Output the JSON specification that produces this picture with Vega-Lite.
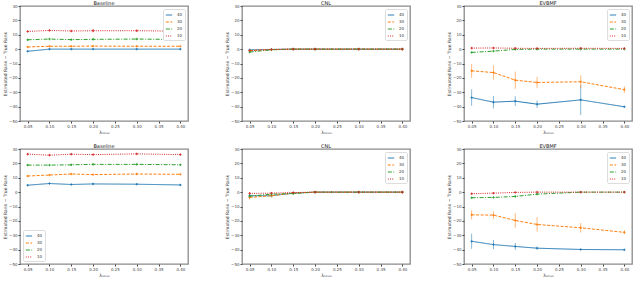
{
"$schema":"https://vega.github.io/schema/vega-lite/v6.json",
"autosize":{"type":"pad"},
"padding":{"left":1,"top":0,"right":2,"bottom":0},
"background":"white",
"spacing":8,
"config":{
 "view":{"stroke":"#8a8a8a","strokeWidth":1.3},
 "axis":{"grid":false,"labelFontSize":4,"titleFontSize":4.5,"tickSize":2,"labelPadding":1,"titlePadding":1.5,"domain":false,"tickColor":"#444","labelColor":"#444","titleColor":"#333","labelFont":"DejaVu Sans","titleFont":"DejaVu Sans","titleFontWeight":"normal","labelOverlap":false,"labelFlush":false},
 "title":{"fontSize":5,"fontWeight":"normal","offset":-2,"font":"DejaVu Sans","color":"#222"},
 "legend":{"orient":"top-right","labelFontSize":4,"labelFont":"DejaVu Sans","symbolType":"stroke","symbolSize":40,"symbolStrokeWidth":1,"symbolOpacity":1,"padding":2,"rowPadding":1,"strokeColor":"#ddd","fillColor":"white","offset":3,"labelLimit":30,"cornerRadius":1.5,"labelColor":"#333"},
 "concat":{"spacing":34}
},
"datasets":{"d":[
{"p":"tl","s":"40","x":0.05,"y":-1.5,"e":0.5},{"p":"tl","s":"40","x":0.10,"y":0,"e":0.2},{"p":"tl","s":"40","x":0.15,"y":0,"e":0.2},{"p":"tl","s":"40","x":0.20,"y":0,"e":0.2},{"p":"tl","s":"40","x":0.30,"y":0,"e":0.2},{"p":"tl","s":"40","x":0.40,"y":0,"e":0.2},
{"p":"tl","s":"30","x":0.05,"y":1.5,"e":0.3},{"p":"tl","s":"30","x":0.10,"y":2,"e":0.3},{"p":"tl","s":"30","x":0.15,"y":2,"e":0.3},{"p":"tl","s":"30","x":0.20,"y":2.1,"e":0.5},{"p":"tl","s":"30","x":0.30,"y":2,"e":0.3},{"p":"tl","s":"30","x":0.40,"y":2,"e":0.3},
{"p":"tl","s":"20","x":0.05,"y":6.5,"e":0.4},{"p":"tl","s":"20","x":0.10,"y":7,"e":0.5},{"p":"tl","s":"20","x":0.15,"y":6.6,"e":0.4},{"p":"tl","s":"20","x":0.20,"y":6.8,"e":0.7},{"p":"tl","s":"20","x":0.30,"y":7,"e":0.6},{"p":"tl","s":"20","x":0.40,"y":6.7,"e":0.4},
{"p":"tl","s":"10","x":0.05,"y":12.3,"e":0.5},{"p":"tl","s":"10","x":0.10,"y":13,"e":0.6},{"p":"tl","s":"10","x":0.15,"y":12.6,"e":0.5},{"p":"tl","s":"10","x":0.20,"y":12.8,"e":1.2},{"p":"tl","s":"10","x":0.30,"y":12.8,"e":0.7},{"p":"tl","s":"10","x":0.40,"y":12.5,"e":0.6},

{"p":"tm","s":"40","x":0.05,"y":-0.5,"e":0.5},{"p":"tm","s":"40","x":0.10,"y":-0.2,"e":0.2},{"p":"tm","s":"40","x":0.15,"y":0,"e":0.1},{"p":"tm","s":"40","x":0.20,"y":0,"e":0.1},{"p":"tm","s":"40","x":0.30,"y":0,"e":0.1},{"p":"tm","s":"40","x":0.40,"y":0,"e":0.1},
{"p":"tm","s":"30","x":0.05,"y":-1,"e":0.6},{"p":"tm","s":"30","x":0.10,"y":-0.3,"e":0.3},{"p":"tm","s":"30","x":0.15,"y":0,"e":0.1},{"p":"tm","s":"30","x":0.20,"y":0,"e":0.1},{"p":"tm","s":"30","x":0.30,"y":0,"e":0.1},{"p":"tm","s":"30","x":0.40,"y":0,"e":0.1},
{"p":"tm","s":"20","x":0.05,"y":-2,"e":0.8},{"p":"tm","s":"20","x":0.10,"y":-0.5,"e":0.3},{"p":"tm","s":"20","x":0.15,"y":0,"e":0.1},{"p":"tm","s":"20","x":0.20,"y":0,"e":0.1},{"p":"tm","s":"20","x":0.30,"y":0,"e":0.1},{"p":"tm","s":"20","x":0.40,"y":0,"e":0.1},
{"p":"tm","s":"10","x":0.05,"y":-1,"e":0.8},{"p":"tm","s":"10","x":0.10,"y":-0.3,"e":0.3},{"p":"tm","s":"10","x":0.15,"y":0,"e":0.1},{"p":"tm","s":"10","x":0.20,"y":0,"e":0.1},{"p":"tm","s":"10","x":0.30,"y":0,"e":0.1},{"p":"tm","s":"10","x":0.40,"y":0,"e":0.1},

{"p":"tr","s":"40","x":0.05,"y":-33.7,"e":5.7},{"p":"tr","s":"40","x":0.10,"y":-36.9,"e":4.4},{"p":"tr","s":"40","x":0.15,"y":-36.2,"e":3.4},{"p":"tr","s":"40","x":0.20,"y":-38.3,"e":2.6},{"p":"tr","s":"40","x":0.30,"y":-35.3,"e":10.5},{"p":"tr","s":"40","x":0.40,"y":-40.1,"e":0.3},
{"p":"tr","s":"30","x":0.05,"y":-15.1,"e":4.8},{"p":"tr","s":"30","x":0.10,"y":-16.3,"e":5},{"p":"tr","s":"30","x":0.15,"y":-21.6,"e":6},{"p":"tr","s":"30","x":0.20,"y":-23.2,"e":4},{"p":"tr","s":"30","x":0.30,"y":-22.7,"e":4.5},{"p":"tr","s":"30","x":0.40,"y":-28.2,"e":2.3},
{"p":"tr","s":"20","x":0.05,"y":-2.3,"e":0.4},{"p":"tr","s":"20","x":0.10,"y":-1.4,"e":0.4},{"p":"tr","s":"20","x":0.15,"y":-0.2,"e":0.3},{"p":"tr","s":"20","x":0.20,"y":0,"e":0.2},{"p":"tr","s":"20","x":0.30,"y":0,"e":0.2},{"p":"tr","s":"20","x":0.40,"y":0,"e":0.2},
{"p":"tr","s":"10","x":0.05,"y":0.7,"e":0.5},{"p":"tr","s":"10","x":0.10,"y":0.8,"e":0.5},{"p":"tr","s":"10","x":0.15,"y":0.6,"e":0.4},{"p":"tr","s":"10","x":0.20,"y":0.5,"e":0.4},{"p":"tr","s":"10","x":0.30,"y":0.6,"e":0.4},{"p":"tr","s":"10","x":0.40,"y":0.5,"e":0.4},

{"p":"bl","s":"40","x":0.05,"y":4.8,"e":0.5},{"p":"bl","s":"40","x":0.10,"y":6,"e":0.6},{"p":"bl","s":"40","x":0.15,"y":5.3,"e":0.5},{"p":"bl","s":"40","x":0.20,"y":5.7,"e":0.6},{"p":"bl","s":"40","x":0.30,"y":5.5,"e":0.5},{"p":"bl","s":"40","x":0.40,"y":5,"e":0.5},
{"p":"bl","s":"30","x":0.05,"y":11.2,"e":0.4},{"p":"bl","s":"30","x":0.10,"y":11.9,"e":0.4},{"p":"bl","s":"30","x":0.15,"y":12.6,"e":0.5},{"p":"bl","s":"30","x":0.20,"y":12.2,"e":0.4},{"p":"bl","s":"30","x":0.30,"y":12.6,"e":0.4},{"p":"bl","s":"30","x":0.40,"y":12.4,"e":0.4},
{"p":"bl","s":"20","x":0.05,"y":18.8,"e":0.5},{"p":"bl","s":"20","x":0.10,"y":18.8,"e":0.5},{"p":"bl","s":"20","x":0.15,"y":19,"e":0.6},{"p":"bl","s":"20","x":0.20,"y":19.3,"e":0.7},{"p":"bl","s":"20","x":0.30,"y":19.3,"e":0.7},{"p":"bl","s":"20","x":0.40,"y":19,"e":0.5},
{"p":"bl","s":"10","x":0.05,"y":26.4,"e":0.7},{"p":"bl","s":"10","x":0.10,"y":25.7,"e":0.6},{"p":"bl","s":"10","x":0.15,"y":26.4,"e":0.7},{"p":"bl","s":"10","x":0.20,"y":26.1,"e":0.6},{"p":"bl","s":"10","x":0.30,"y":26.6,"e":0.7},{"p":"bl","s":"10","x":0.40,"y":26.1,"e":0.6},

{"p":"bm","s":"40","x":0.05,"y":-2.5,"e":1},{"p":"bm","s":"40","x":0.10,"y":-2.5,"e":1.2},{"p":"bm","s":"40","x":0.15,"y":-0.7,"e":0.5},{"p":"bm","s":"40","x":0.20,"y":0,"e":0.1},{"p":"bm","s":"40","x":0.30,"y":0,"e":0.1},{"p":"bm","s":"40","x":0.40,"y":0,"e":0.1},
{"p":"bm","s":"30","x":0.05,"y":-3.7,"e":1.5},{"p":"bm","s":"30","x":0.10,"y":-2.5,"e":1},{"p":"bm","s":"30","x":0.15,"y":-0.7,"e":0.5},{"p":"bm","s":"30","x":0.20,"y":0,"e":0.1},{"p":"bm","s":"30","x":0.30,"y":0,"e":0.1},{"p":"bm","s":"30","x":0.40,"y":0,"e":0.1},
{"p":"bm","s":"20","x":0.05,"y":-2.8,"e":1},{"p":"bm","s":"20","x":0.10,"y":-1.4,"e":1},{"p":"bm","s":"20","x":0.15,"y":-1,"e":0.6},{"p":"bm","s":"20","x":0.20,"y":0,"e":0.1},{"p":"bm","s":"20","x":0.30,"y":0,"e":0.1},{"p":"bm","s":"20","x":0.40,"y":0,"e":0.1},
{"p":"bm","s":"10","x":0.05,"y":-0.9,"e":0.8},{"p":"bm","s":"10","x":0.10,"y":-0.7,"e":0.6},{"p":"bm","s":"10","x":0.15,"y":-0.3,"e":0.4},{"p":"bm","s":"10","x":0.20,"y":0,"e":0.1},{"p":"bm","s":"10","x":0.30,"y":0,"e":0.1},{"p":"bm","s":"10","x":0.40,"y":0,"e":0.1},

{"p":"br","s":"40","x":0.05,"y":-34.2,"e":5.3},{"p":"br","s":"40","x":0.10,"y":-36.5,"e":3.2},{"p":"br","s":"40","x":0.15,"y":-37.8,"e":2.4},{"p":"br","s":"40","x":0.20,"y":-39,"e":1},{"p":"br","s":"40","x":0.30,"y":-39.9,"e":0.5},{"p":"br","s":"40","x":0.40,"y":-40.1,"e":0.3},
{"p":"br","s":"30","x":0.05,"y":-15.8,"e":3.2},{"p":"br","s":"30","x":0.10,"y":-16,"e":2.7},{"p":"br","s":"30","x":0.15,"y":-19.7,"e":5},{"p":"br","s":"30","x":0.20,"y":-22.5,"e":5},{"p":"br","s":"30","x":0.30,"y":-24.8,"e":3.3},{"p":"br","s":"30","x":0.40,"y":-28,"e":1.5},
{"p":"br","s":"20","x":0.05,"y":-3.9,"e":0.5},{"p":"br","s":"20","x":0.10,"y":-3.7,"e":0.5},{"p":"br","s":"20","x":0.15,"y":-3,"e":0.6},{"p":"br","s":"20","x":0.20,"y":-1.4,"e":0.5},{"p":"br","s":"20","x":0.30,"y":0,"e":0.2},{"p":"br","s":"20","x":0.40,"y":0,"e":0.2},
{"p":"br","s":"10","x":0.05,"y":-1.1,"e":0.4},{"p":"br","s":"10","x":0.10,"y":-0.7,"e":0.4},{"p":"br","s":"10","x":0.15,"y":-0.2,"e":0.3},{"p":"br","s":"10","x":0.20,"y":0,"e":0.2},{"p":"br","s":"10","x":0.30,"y":0,"e":0.2},{"p":"br","s":"10","x":0.40,"y":0,"e":0.2}
]},
"data":{"name":"d"},
"resolve":{"scale":{"color":"independent","strokeDash":"independent"},"legend":{"color":"independent","strokeDash":"independent"}},
"vconcat":[
{"hconcat":[
 {"title":"Baseline","width":168,"height":115,"transform":[{"filter":"datum.p==='tl'"}],
  "encoding":{"x":{"field":"x","type":"quantitative","title":"λₙₒᵢₛₑ","scale":{"domain":[0.0325,0.4175],"nice":false,"zero":false},"axis":{"values":[0.05,0.1,0.15,0.2,0.25,0.3,0.35,0.4],"format":".2f","labelOverlap":false}},"y":{"field":"y","type":"quantitative","title":"Estimated Rank − True Rank","scale":{"domain":[-50,30],"nice":false},"axis":{"values":[-50,-40,-30,-20,-10,0,10,20,30],"labelOverlap":false}},"color":{"field":"s","type":"nominal","title":null,"legend":{"encode":{"symbols":{"update":{"fill":{"value":"transparent"},"opacity":{"value":1},"stroke":{"signal":"datum.value==='40'?'#1f77b4':datum.value==='30'?'#ff7f0e':datum.value==='20'?'#2ca02c':'#d62728'"},"strokeDash":{"signal":"datum.value==='30'?[3,1.5]:datum.value==='20'?[4,1.5,1,1.5]:datum.value==='10'?[1,1.2]:[1,0]"}}}}},"scale":{"domain":["40","30","20","10"],"range":["#1f77b4","#ff7f0e","#2ca02c","#d62728"]}}},
  "layer":[
   {"mark":{"type":"errorbar","thickness":0.9,"opacity":0.6},"encoding":{"yError":{"field":"e"}}},
   {"mark":{"type":"line","strokeWidth":1},"encoding":{"strokeDash":{"field":"s","type":"nominal","legend":null,"scale":{"domain":["40","30","20","10"],"range":[[1,0],[3,1.5],[4,1.5,1,1.5],[1,1.2]]}}}},
   {"mark":{"type":"point","shape":"M-1,0H1M0,-1V1","size":6,"filled":false,"strokeWidth":0.8,"opacity":1},"encoding":{}}
  ]},
 {"title":"CNL","width":168,"height":115,"transform":[{"filter":"datum.p==='tm'"}],
  "encoding":{"x":{"field":"x","type":"quantitative","title":"λₙₒᵢₛₑ","scale":{"domain":[0.0325,0.4175],"nice":false,"zero":false},"axis":{"values":[0.05,0.1,0.15,0.2,0.25,0.3,0.35,0.4],"format":".2f","labelOverlap":false}},"y":{"field":"y","type":"quantitative","title":"Estimated Rank − True Rank","scale":{"domain":[-50,30],"nice":false},"axis":{"values":[-50,-40,-30,-20,-10,0,10,20,30],"labelOverlap":false}},"color":{"field":"s","type":"nominal","title":null,"legend":{"encode":{"symbols":{"update":{"fill":{"value":"transparent"},"opacity":{"value":1},"stroke":{"signal":"datum.value==='40'?'#1f77b4':datum.value==='30'?'#ff7f0e':datum.value==='20'?'#2ca02c':'#d62728'"},"strokeDash":{"signal":"datum.value==='30'?[3,1.5]:datum.value==='20'?[4,1.5,1,1.5]:datum.value==='10'?[1,1.2]:[1,0]"}}}}},"scale":{"domain":["40","30","20","10"],"range":["#1f77b4","#ff7f0e","#2ca02c","#d62728"]}}},
  "layer":[
   {"mark":{"type":"errorbar","thickness":0.9,"opacity":0.6},"encoding":{"yError":{"field":"e"}}},
   {"mark":{"type":"line","strokeWidth":1},"encoding":{"strokeDash":{"field":"s","type":"nominal","legend":null,"scale":{"domain":["40","30","20","10"],"range":[[1,0],[3,1.5],[4,1.5,1,1.5],[1,1.2]]}}}},
   {"mark":{"type":"point","shape":"M-1,0H1M0,-1V1","size":6,"filled":false,"strokeWidth":0.8,"opacity":1},"encoding":{}}
  ]},
 {"title":"EVBMF","width":168,"height":115,"transform":[{"filter":"datum.p==='tr'"}],
  "encoding":{"x":{"field":"x","type":"quantitative","title":"λₙₒᵢₛₑ","scale":{"domain":[0.0325,0.4175],"nice":false,"zero":false},"axis":{"values":[0.05,0.1,0.15,0.2,0.25,0.3,0.35,0.4],"format":".2f","labelOverlap":false}},"y":{"field":"y","type":"quantitative","title":"Estimated Rank − True Rank","scale":{"domain":[-50,30],"nice":false},"axis":{"values":[-50,-40,-30,-20,-10,0,10,20,30],"labelOverlap":false}},"color":{"field":"s","type":"nominal","title":null,"legend":{"encode":{"symbols":{"update":{"fill":{"value":"transparent"},"opacity":{"value":1},"stroke":{"signal":"datum.value==='40'?'#1f77b4':datum.value==='30'?'#ff7f0e':datum.value==='20'?'#2ca02c':'#d62728'"},"strokeDash":{"signal":"datum.value==='30'?[3,1.5]:datum.value==='20'?[4,1.5,1,1.5]:datum.value==='10'?[1,1.2]:[1,0]"}}}}},"scale":{"domain":["40","30","20","10"],"range":["#1f77b4","#ff7f0e","#2ca02c","#d62728"]}}},
  "layer":[
   {"mark":{"type":"errorbar","thickness":0.9,"opacity":0.6},"encoding":{"yError":{"field":"e"}}},
   {"mark":{"type":"line","strokeWidth":1},"encoding":{"strokeDash":{"field":"s","type":"nominal","legend":null,"scale":{"domain":["40","30","20","10"],"range":[[1,0],[3,1.5],[4,1.5,1,1.5],[1,1.2]]}}}},
   {"mark":{"type":"point","shape":"M-1,0H1M0,-1V1","size":6,"filled":false,"strokeWidth":0.8,"opacity":1},"encoding":{}}
  ]}
 ],
 "resolve":{"scale":{"color":"independent","strokeDash":"independent"},"legend":{"color":"independent","strokeDash":"independent"}}
},
{"hconcat":[
 {"title":"Baseline","width":168,"height":115,"transform":[{"filter":"datum.p==='bl'"}],
  "encoding":{"x":{"field":"x","type":"quantitative","title":"λₙₒᵢₛₑ","scale":{"domain":[0.0325,0.4175],"nice":false,"zero":false},"axis":{"values":[0.05,0.1,0.15,0.2,0.25,0.3,0.35,0.4],"format":".2f","labelOverlap":false}},"y":{"field":"y","type":"quantitative","title":"Estimated Rank − True Rank","scale":{"domain":[-50,30],"nice":false},"axis":{"values":[-50,-40,-30,-20,-10,0,10,20,30],"labelOverlap":false}},"color":{"field":"s","type":"nominal","title":null,"legend":{"orient":"bottom-left","encode":{"symbols":{"update":{"fill":{"value":"transparent"},"opacity":{"value":1},"stroke":{"signal":"datum.value==='40'?'#1f77b4':datum.value==='30'?'#ff7f0e':datum.value==='20'?'#2ca02c':'#d62728'"},"strokeDash":{"signal":"datum.value==='30'?[3,1.5]:datum.value==='20'?[4,1.5,1,1.5]:datum.value==='10'?[1,1.2]:[1,0]"}}}}},"scale":{"domain":["40","30","20","10"],"range":["#1f77b4","#ff7f0e","#2ca02c","#d62728"]}}},
  "layer":[
   {"mark":{"type":"errorbar","thickness":0.9,"opacity":0.6},"encoding":{"yError":{"field":"e"}}},
   {"mark":{"type":"line","strokeWidth":1},"encoding":{"strokeDash":{"field":"s","type":"nominal","legend":null,"scale":{"domain":["40","30","20","10"],"range":[[1,0],[3,1.5],[4,1.5,1,1.5],[1,1.2]]}}}},
   {"mark":{"type":"point","shape":"M-1,0H1M0,-1V1","size":6,"filled":false,"strokeWidth":0.8,"opacity":1},"encoding":{}}
  ]},
 {"title":"CNL","width":168,"height":115,"transform":[{"filter":"datum.p==='bm'"}],
  "encoding":{"x":{"field":"x","type":"quantitative","title":"λₙₒᵢₛₑ","scale":{"domain":[0.0325,0.4175],"nice":false,"zero":false},"axis":{"values":[0.05,0.1,0.15,0.2,0.25,0.3,0.35,0.4],"format":".2f","labelOverlap":false}},"y":{"field":"y","type":"quantitative","title":"Estimated Rank − True Rank","scale":{"domain":[-50,30],"nice":false},"axis":{"values":[-50,-40,-30,-20,-10,0,10,20,30],"labelOverlap":false}},"color":{"field":"s","type":"nominal","title":null,"legend":{"encode":{"symbols":{"update":{"fill":{"value":"transparent"},"opacity":{"value":1},"stroke":{"signal":"datum.value==='40'?'#1f77b4':datum.value==='30'?'#ff7f0e':datum.value==='20'?'#2ca02c':'#d62728'"},"strokeDash":{"signal":"datum.value==='30'?[3,1.5]:datum.value==='20'?[4,1.5,1,1.5]:datum.value==='10'?[1,1.2]:[1,0]"}}}}},"scale":{"domain":["40","30","20","10"],"range":["#1f77b4","#ff7f0e","#2ca02c","#d62728"]}}},
  "layer":[
   {"mark":{"type":"errorbar","thickness":0.9,"opacity":0.6},"encoding":{"yError":{"field":"e"}}},
   {"mark":{"type":"line","strokeWidth":1},"encoding":{"strokeDash":{"field":"s","type":"nominal","legend":null,"scale":{"domain":["40","30","20","10"],"range":[[1,0],[3,1.5],[4,1.5,1,1.5],[1,1.2]]}}}},
   {"mark":{"type":"point","shape":"M-1,0H1M0,-1V1","size":6,"filled":false,"strokeWidth":0.8,"opacity":1},"encoding":{}}
  ]},
 {"title":"EVBMF","width":168,"height":115,"transform":[{"filter":"datum.p==='br'"}],
  "encoding":{"x":{"field":"x","type":"quantitative","title":"λₙₒᵢₛₑ","scale":{"domain":[0.0325,0.4175],"nice":false,"zero":false},"axis":{"values":[0.05,0.1,0.15,0.2,0.25,0.3,0.35,0.4],"format":".2f","labelOverlap":false}},"y":{"field":"y","type":"quantitative","title":"Estimated Rank − True Rank","scale":{"domain":[-50,30],"nice":false},"axis":{"values":[-50,-40,-30,-20,-10,0,10,20,30],"labelOverlap":false}},"color":{"field":"s","type":"nominal","title":null,"legend":{"encode":{"symbols":{"update":{"fill":{"value":"transparent"},"opacity":{"value":1},"stroke":{"signal":"datum.value==='40'?'#1f77b4':datum.value==='30'?'#ff7f0e':datum.value==='20'?'#2ca02c':'#d62728'"},"strokeDash":{"signal":"datum.value==='30'?[3,1.5]:datum.value==='20'?[4,1.5,1,1.5]:datum.value==='10'?[1,1.2]:[1,0]"}}}}},"scale":{"domain":["40","30","20","10"],"range":["#1f77b4","#ff7f0e","#2ca02c","#d62728"]}}},
  "layer":[
   {"mark":{"type":"errorbar","thickness":0.9,"opacity":0.6},"encoding":{"yError":{"field":"e"}}},
   {"mark":{"type":"line","strokeWidth":1},"encoding":{"strokeDash":{"field":"s","type":"nominal","legend":null,"scale":{"domain":["40","30","20","10"],"range":[[1,0],[3,1.5],[4,1.5,1,1.5],[1,1.2]]}}}},
   {"mark":{"type":"point","shape":"M-1,0H1M0,-1V1","size":6,"filled":false,"strokeWidth":0.8,"opacity":1},"encoding":{}}
  ]}
 ],
 "resolve":{"scale":{"color":"independent","strokeDash":"independent"},"legend":{"color":"independent","strokeDash":"independent"}}
}
]
}
